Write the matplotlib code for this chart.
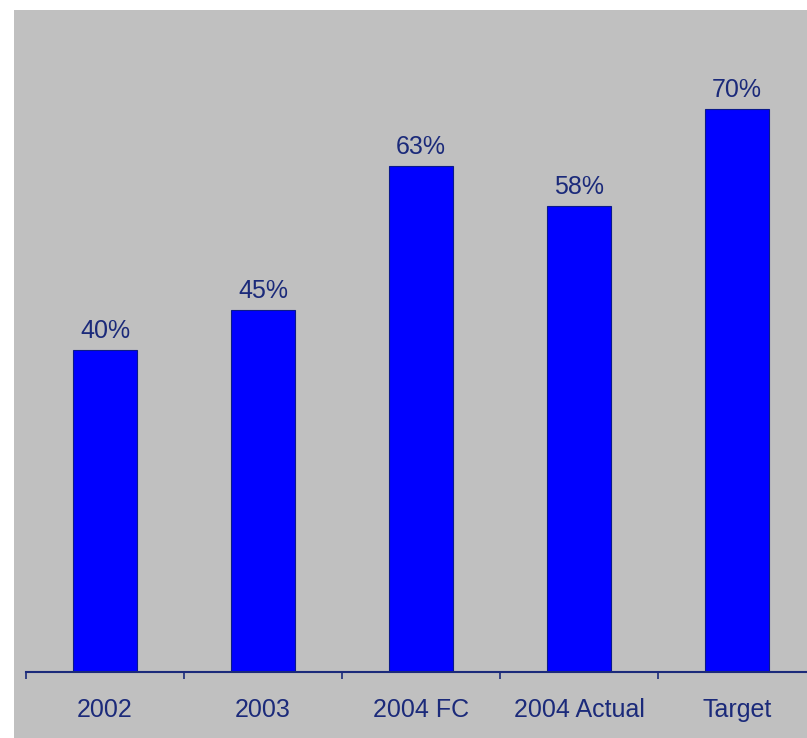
import matplotlib
matplotlib.use("Agg")
import matplotlib.pyplot as plt
from matplotlib.patches import Rectangle

categories = ["2002", "2003", "2004 FC", "2004 Actual", "Target"]
values = [40, 45, 63, 58, 70]

W, H = 807, 738
navy = "#1b2a7a"
grey = "#c0c0c0"

plt.rcParams["font.family"] = ["Liberation Sans", "DejaVu Sans"]

fig = plt.figure(figsize=(W / 100, H / 100), dpi=100)
fig.patch.set_facecolor("white")

# grey chart area behind the plot
fig.add_artist(Rectangle((14 / W, 0), 1, (H - 10) / H, transform=fig.transFigure,
                         facecolor=grey, edgecolor="none", zorder=-5))

base_y = 671.5
ax = fig.add_axes([26 / W, (H - base_y) / H, (W - 26) / W, (base_y - 10) / H])
ax.set_facecolor(grey)

x = list(range(len(categories)))
bars = ax.bar(x, values, width=0.41, color="#0000ff", edgecolor="#0a1a8a", linewidth=0.8)
for b, v in zip(bars, values):
    ax.annotate(f"{v}%", (b.get_x() + b.get_width() / 2, v), xytext=(0, 5),
                textcoords="offset points", ha="center", va="bottom",
                fontsize=18, color=navy)

for s in ["top", "right", "left"]:
    ax.spines[s].set_visible(False)
ax.spines["bottom"].set_color(navy)
ax.spines["bottom"].set_linewidth(1.5)

ax.set_yticks([])
ax.set_xticks([i - 0.5 for i in range(len(categories) + 1)])
ax.set_xticklabels([])
ax.tick_params(axis="x", which="major", direction="out", length=5, width=1.2, color=navy)
ax.set_xticks(x, minor=True)
ax.set_xticklabels(categories, minor=True)
ax.tick_params(axis="x", which="minor", length=0, pad=19, labelsize=18, labelcolor=navy)

# the last category runs off the right edge
ax.set_xlim(-0.5, -0.5 + (W - 26) / 158)
ax.set_ylim(0, (base_y - 10) / 8.03)

fig.savefig("out.png", dpi=100, facecolor="white")
